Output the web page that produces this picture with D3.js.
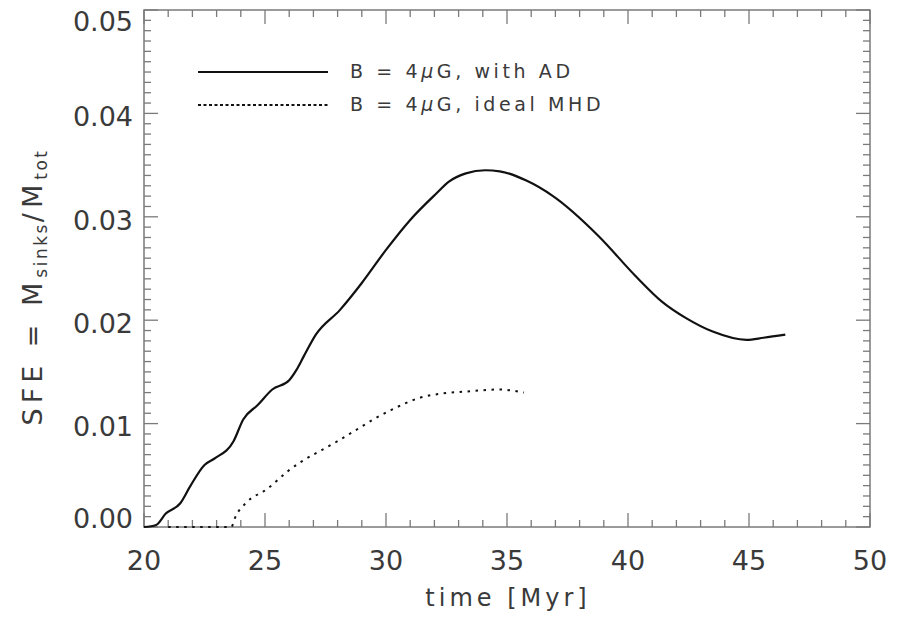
<!DOCTYPE html>
<html><head><meta charset="utf-8">
<script src="https://cdn.jsdelivr.net/npm/d3@7"></script>
<style>
body{margin:0;background:#fff;}
svg{display:block;}
text{font-family:"DejaVu Sans",sans-serif;fill:#3a3a3a;}
</style></head>
<body><svg id="c" width="898" height="618"></svg>
<script>
// ---- data ----
const adTime  = [20.0,20.5,20.9,21.5,21.9,22.5,22.9,23.7,24.1,24.7,25.3,26.0,26.3,26.6,27.1,28.1,29.0,30.0,31.0,32.1,32.6,33.3,34.1,34.7,35.8,36.9,38.8,40.3,41.4,42.4,43.5,44.9,45.6,46.5];
const adSFE   = [0.0,0.0002,0.0013,0.0023,0.0039,0.0060,0.0066,0.0083,0.0104,0.0118,0.0133,0.0142,0.0152,0.0165,0.0186,0.0210,0.0236,0.0268,0.0297,0.0323,0.0334,0.0342,0.0345,0.0344,0.0335,0.0320,0.0281,0.0243,0.0218,0.0202,0.0189,0.0181,0.0183,0.0186];
const idTime  = [21.0,23.6,23.8,24.2,25.1,26.0,28.0,30.2,31.4,32.3,33.3,34.7,35.7];
const idSFE   = [0.0,0.0,0.0011,0.0023,0.0037,0.0055,0.0083,0.0113,0.0125,0.0129,0.0131,0.0133,0.0130];
const xTicks  = [20,25,30,35,40,45,50];
const yTicks  = [0,0.01,0.02,0.03,0.04,0.05];
const yTickLabels = ["0.00","0.01","0.02","0.03","0.04","0.05"];
const legendLabels = ["with AD","ideal MHD"];

// ---- layout ----
const L=144,R=870,T=10,B=527;
const svg=d3.select("#c");
const x=d3.scaleLinear().domain([20,50]).range([L,R]);
const y=d3.scaleLinear().domain([0,0.05]).range([B,T]);
const axisCol="#7a7a7a";

// frame
svg.append("rect").attr("x",L).attr("y",T).attr("width",R-L).attr("height",B-T)
  .attr("fill","none").attr("stroke",axisCol).attr("stroke-width",1.5);

const xMinor=d3.range(20,50.001,1), yMinor=d3.range(0,0.05001,0.001);
const tk=svg.append("g").attr("stroke",axisCol).attr("stroke-width",1.3);
xMinor.forEach(v=>{
  const major=Math.abs(v/5-Math.round(v/5))<1e-6;
  const len=major?14:7;
  tk.append("line").attr("x1",x(v)).attr("x2",x(v)).attr("y1",B).attr("y2",B-len);
  tk.append("line").attr("x1",x(v)).attr("x2",x(v)).attr("y1",T).attr("y2",T+len);
});
yMinor.forEach(v=>{
  const major=Math.abs(v*100-Math.round(v*100))<1e-6;
  const len=major?14:7;
  tk.append("line").attr("y1",y(v)).attr("y2",y(v)).attr("x1",L).attr("x2",L+len);
  tk.append("line").attr("y1",y(v)).attr("y2",y(v)).attr("x1",R).attr("x2",R-len);
});

// tick labels
xTicks.forEach(v=>{
  svg.append("text").attr("x",x(v)).attr("y",570).attr("text-anchor","middle")
    .attr("font-size",27).text(v);
});
yTicks.forEach((v,i)=>{
  let cy=y(v)+3;
  cy=Math.max(T+11,Math.min(B-9,cy));
  svg.append("text").attr("x",133).attr("y",cy).attr("dy","0.36em").attr("text-anchor","end")
    .attr("font-size",27).text(yTickLabels[i]);
});

// axis titles
svg.append("text").attr("x",508).attr("y",606).attr("text-anchor","middle")
  .attr("font-size",24).attr("letter-spacing",4).text("time [Myr]");
const yl=svg.append("text").attr("transform","translate(42,287) rotate(-90)")
  .attr("text-anchor","middle").attr("font-size",27).attr("letter-spacing",5);
yl.append("tspan").text("SFE = M");
yl.append("tspan").attr("font-size",17).attr("dy",5).attr("letter-spacing",2.5).text("sinks");
yl.append("tspan").attr("dy",-5).text("/M");
yl.append("tspan").attr("font-size",17).attr("dy",5).attr("letter-spacing",2.5).text("tot");

// curves
const line=d3.line().x(d=>x(d[0])).y(d=>y(d[1])).curve(d3.curveMonotoneX);
svg.append("path").datum(adTime.map((t,i)=>[t,adSFE[i]])).attr("d",line)
  .attr("fill","none").attr("stroke","#111").attr("stroke-width",2.2);
svg.append("path").datum(idTime.map((t,i)=>[t,idSFE[i]])).attr("d",line)
  .attr("fill","none").attr("stroke","#111").attr("stroke-width",2)
  .attr("stroke-dasharray","2.5,5.5");

// legend
const lg=svg.append("g");
[[72,null],[105,"3,2.5"]].forEach((r,i)=>{
  const l=lg.append("line").attr("x1",198).attr("x2",328).attr("y1",r[0]).attr("y2",r[0])
    .attr("stroke","#111").attr("stroke-width",r[1]?1.8:2.2);
  if(r[1]) l.attr("stroke-dasharray",r[1]);
  const t=lg.append("text").attr("x",350).attr("y",r[0]+6).attr("font-size",19).attr("letter-spacing",3.6);
  t.append("tspan").text("B = 4");
  t.append("tspan").attr("font-style","italic").text("\u03bc");
  t.append("tspan").text("G, "+legendLabels[i]);
});
</script></body></html>
